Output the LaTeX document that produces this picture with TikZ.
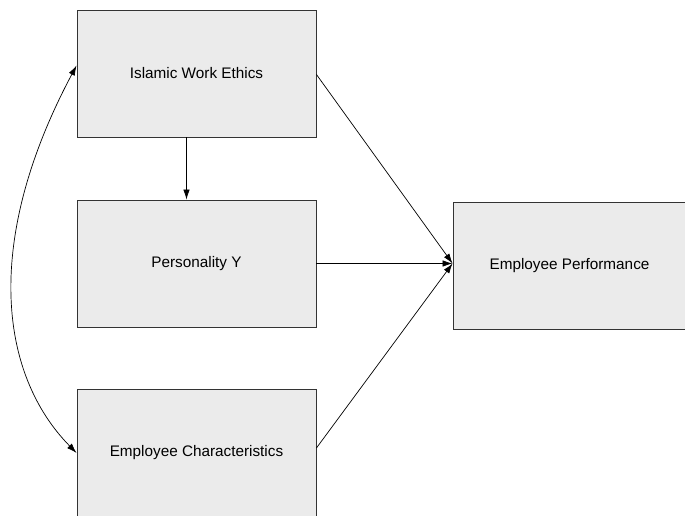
\documentclass[tikz,border=0pt]{standalone}
\usepackage{fontspec}
\setmainfont{Liberation Sans}
\usetikzlibrary{arrows.meta}
\begin{document}
\begin{tikzpicture}[x=1pt,y=1pt,
  varbox/.style={draw=black!80,line width=0.9pt,fill=black!8,minimum width=239pt,minimum height=127pt,inner sep=0pt,font=\fontsize{15.3}{18}\selectfont},
  conn/.style={line width=0.7pt,-{Latex[length=10pt,width=6.5pt]}}]
\useasboundingbox (0,0) rectangle (685,516);
\clip (0,0) rectangle (685,516);
\node[varbox] (iwe) at (196.5,442.5) {Islamic Work Ethics};
\node[varbox] (py) at (196.5,252.5) {Personality Y};
\node[varbox] (ec) at (196.5,63) {Employee Characteristics};
\node[varbox,minimum width=233pt] (ep) at (569.5,250.5) {Employee Performance};
\coordinate (epin) at ([yshift=2pt]ep.west);
\draw[conn] ([xshift=-10pt]iwe.south) -- ([xshift=-10pt]py.north);
\draw[conn] ([yshift=-1pt]iwe.east) -- (epin);
\draw[conn] (py.east) -- (epin);
\draw[conn] ([yshift=5pt]ec.east) -- (epin);
\draw[line width=0.7pt,{Latex[length=10pt,width=6.5pt]}-{Latex[length=10pt,width=6.5pt]}]
  ([yshift=8pt]iwe.west) .. controls (-17,275) and (-1,142) .. (ec.west);
\end{tikzpicture}
\end{document}
